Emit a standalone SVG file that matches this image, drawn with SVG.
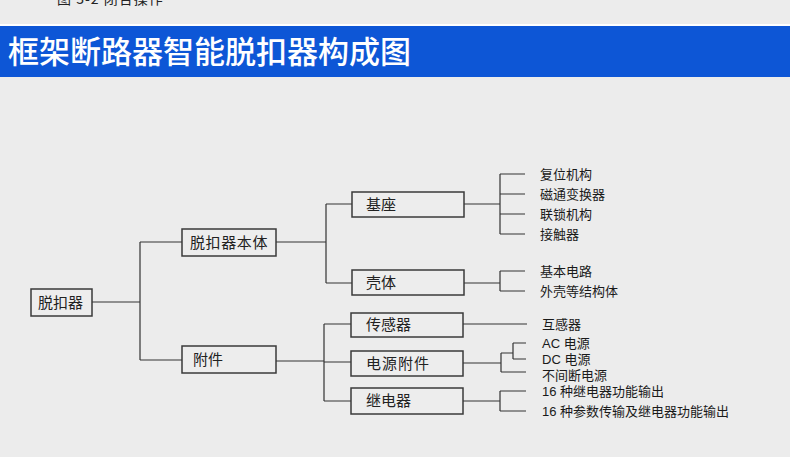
<svg xmlns="http://www.w3.org/2000/svg" width="790" height="457" viewBox="0 0 790 457">
<style>
.bx{fill:#ededed;stroke:#3a3a3a;stroke-width:1.5}
.ln{fill:none;stroke:#333;stroke-width:1.2}
.bt{font-family:"Noto Sans CJK SC","Liberation Sans",sans-serif;font-size:15px;fill:#222}
.lt{font-family:"Liberation Sans","Noto Sans CJK SC",sans-serif;font-size:13px;fill:#1a1a1a}
</style>
<rect width="790" height="457" fill="#ececec"/>
<text x="57" y="4" font-family="Noto Sans CJK SC,sans-serif" font-size="14" fill="#222" letter-spacing="1">图 3-2 闭合操作</text>
<rect x="0" y="24" width="790" height="2" fill="#ffffff"/>
<rect x="0" y="26" width="790" height="51" fill="#0d56d6"/>
<text x="8" y="63" font-family="Noto Sans CJK SC,sans-serif" font-size="31" font-weight="500" fill="#ffffff">框架断路器智能脱扣器构成图</text>
<g id="connectors">
<path class="ln" d="M92 302H140M140 242V360M140 242H182M140 360H182"/>
<path class="ln" d="M276 242H326M326 204V283M326 204H352M326 283H352"/>
<path class="ln" d="M464 204H500M500 174V234M500 174H525M500 194H525M500 214H525M500 234H525"/>
<path class="ln" d="M464 283H500M500 271V291M500 271H525M500 291H525"/>
<path class="ln" d="M276 361H324M324 324V401M324 324H351M324 362H351M324 401H351"/>
<path class="ln" d="M463 324H527"/>
<path class="ln" d="M463 363H501M501 353V372M501 372H526M501 353H513M513 343V359M513 343H526M513 359H526"/>
<path class="ln" d="M463 401H500M500 391V411M500 391H526M500 411H526"/>
</g>
<g id="n-root"><rect class="bx" x="31" y="289" width="61" height="27"/><text class="bt" x="38" y="308">脱扣器</text></g>
<g id="n-body"><rect class="bx" x="182" y="229" width="94" height="27"/><text class="bt" x="190" y="248" letter-spacing="0.6">脱扣器本体</text></g>
<g id="n-acc"><rect class="bx" x="182" y="346" width="94" height="27"/><text class="bt" x="193" y="365">附件</text></g>
<g id="n-base"><rect class="bx" x="352" y="192" width="112" height="25"/><text class="bt" x="366" y="210">基座</text></g>
<g id="n-shell"><rect class="bx" x="352" y="270" width="112" height="25"/><text class="bt" x="366" y="288">壳体</text></g>
<g id="n-sensor"><rect class="bx" x="351" y="313" width="112" height="24"/><text class="bt" x="366" y="330">传感器</text></g>
<g id="n-power"><rect class="bx" x="351" y="351" width="112" height="25"/><text class="bt" x="366" y="369" letter-spacing="1">电源附件</text></g>
<g id="n-relay"><rect class="bx" x="351" y="388" width="112" height="26"/><text class="bt" x="366" y="406">继电器</text></g>
<g id="labels">
<text class="lt" x="540" y="179">复位机构</text>
<text class="lt" x="540" y="199">磁通变换器</text>
<text class="lt" x="540" y="219">联锁机构</text>
<text class="lt" x="540" y="239">接触器</text>
<text class="lt" x="540" y="276">基本电路</text>
<text class="lt" x="540" y="296">外壳等结构体</text>
<text class="lt" x="542" y="329">互感器</text>
<text class="lt" x="542" y="348">AC 电源</text>
<text class="lt" x="542" y="364">DC 电源</text>
<text class="lt" x="542" y="380">不间断电源</text>
<text class="lt" x="542" y="396">16 种继电器功能输出</text>
<text class="lt" x="542" y="416">16 种参数传输及继电器功能输出</text>
</g>
</svg>
